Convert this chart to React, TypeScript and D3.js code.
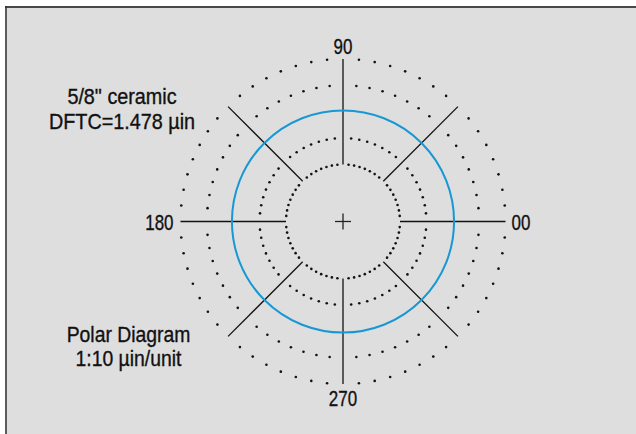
import React from "react";
import * as d3 from "d3";

const ringValues = [0, 1, 3, 4];
const profileValue = 2.05;
const spokeAngles = [0, 45, 90, 135, 180, 225, 270, 315];
const axisLabels = [
  { angle: 0, text: "00" },
  { angle: 90, text: "90" },
  { angle: 180, text: "180" },
  { angle: 270, text: "270" },
];
const titleLines = ["5/8\" ceramic", "DFTC=1.478 µin"];
const scaleLines = ["Polar Diagram", "1:10 µin/unit"];
const dotsPerRing = 64;

const W = 636;
const H = 434;
const cx = 343;
const cy = 221.5;
const FONT = "'Liberation Sans', Arial, sans-serif";

export default function App() {
  const r = d3.scaleLinear().domain([0, 4]).range([57, 162.5]);
  const rMin = r(0);
  const rMax = r(4);
  const pt = (deg: number, rad: number) => {
    const a = (deg * Math.PI) / 180;
    return [cx + rad * Math.cos(a), cy - rad * Math.sin(a)];
  };
  const dotIdx = d3.range(dotsPerRing).filter((i) => i % (dotsPerRing / 8) !== 0);

  const T = (key: string, x: number, y: number, sx: number, anchor: string, text: string) => (
    <text
      key={key}
      transform={`translate(${x},${y}) scale(${sx},1)`}
      textAnchor={anchor}
    >
      {text}
    </text>
  );

  return (
    <svg
      width={W}
      height={H}
      style={{ position: "absolute", left: 0, top: 0, display: "block" }}
    >
      <rect x={0} y={0} width={W} height={H} fill="#ffffff" />
      <rect x={5} y={6} width={W} height={H} fill="#dedede" />
      <line x1={5} y1={7} x2={W} y2={7} stroke="#484848" strokeWidth={2} />
      <line x1={6} y1={6} x2={6} y2={H} stroke="#303030" strokeWidth={1.5} />

      {ringValues.map((v) =>
        dotIdx.map((i) => {
          const [x, y] = pt((i * 360) / dotsPerRing, r(v));
          return <circle key={`${v}-${i}`} cx={x} cy={y} r={1.3} fill="#111" />;
        })
      )}

      {spokeAngles.map((a) => {
        const [x1, y1] = pt(a, rMin);
        const [x2, y2] = pt(a, rMax);
        return (
          <line key={a} x1={x1} y1={y1} x2={x2} y2={y2} stroke="#111" strokeWidth={1.3} />
        );
      })}

      <circle cx={cx} cy={cy} r={r(profileValue)} fill="none" stroke="#1798d4" strokeWidth={2} />

      <line x1={cx - 8} y1={cy} x2={cx + 8} y2={cy} stroke="#222" strokeWidth={1.3} />
      <line x1={cx} y1={cy - 8} x2={cx} y2={cy + 8} stroke="#222" strokeWidth={1.3} />

      <g fontFamily={FONT} fontSize={22} fill="#111" stroke="#111" strokeWidth={0.35}>
        {axisLabels.map((l) => {
          if (l.angle === 0) return T(l.text, cx + rMax + 6, cy + 8, 0.77, "start", l.text);
          if (l.angle === 180) return T(l.text, cx - rMax - 7, cy + 8, 0.77, "end", l.text);
          if (l.angle === 90) return T(l.text, cx, cy - rMax - 5, 0.77, "middle", l.text);
          return T(l.text, cx, cy + rMax + 22, 0.77, "middle", l.text);
        })}
        {titleLines.map((t, i) => T(t, 122, 103.5 + i * 25, 0.9, "middle", t))}
        {scaleLines.map((t, i) => T(t, 128.5, 341.5 + i * 24.5, 0.88, "middle", t))}
      </g>
    </svg>
  );
}
